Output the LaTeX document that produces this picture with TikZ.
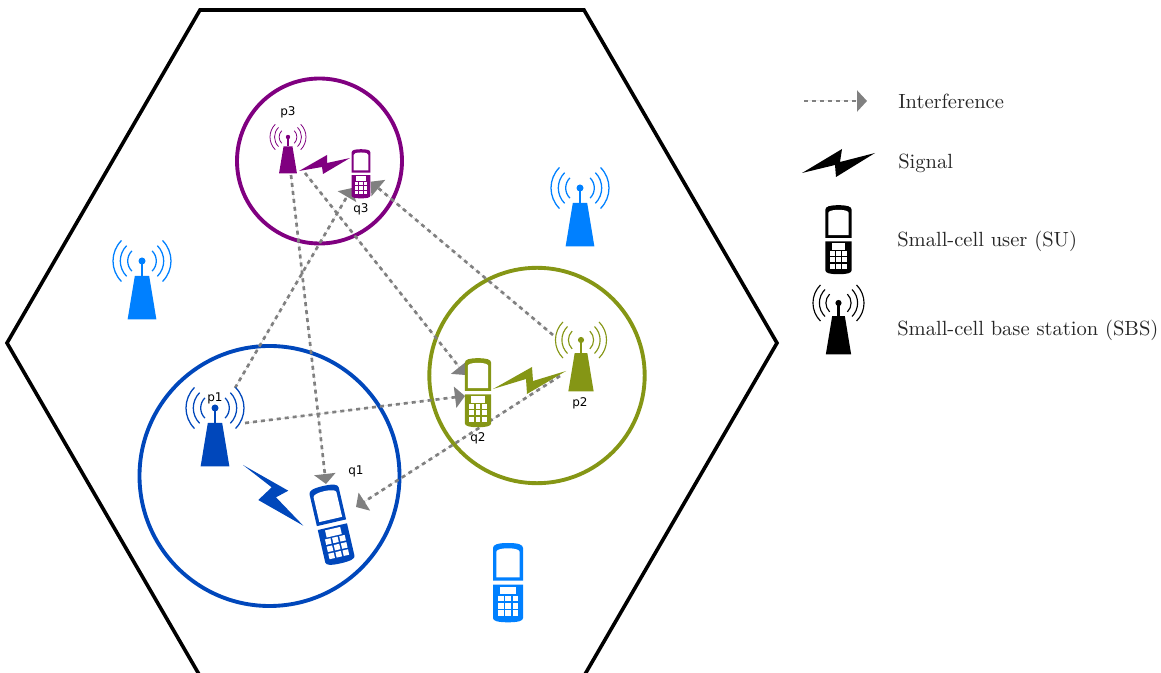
\documentclass[tikz,border=0pt]{standalone}
\usepackage{fontspec}
\usepackage{graphicx}
\usetikzlibrary{arrows.meta}
\newfontfamily\lblfont{DejaVu Sans}
\newcommand{\legscale}[1]{\scalebox{1.54}{\fontsize{10}{12}\selectfont #1}}
\definecolor{cpurple}{HTML}{800080}
\definecolor{colive}{HTML}{859615}
\definecolor{cblue}{HTML}{0047BB}
\definecolor{clight}{HTML}{0080FF}
\definecolor{cgray}{HTML}{808080}
\colorlet{iconcol}{black}
\tikzset{
  iconc/.code={\colorlet{iconcol}{#1}},
  cellring/.style={line width=2.9pt,fill=none},
  hexa/.style={draw=black,line width=2.7pt,line join=miter},
  intf/.style={draw=cgray,fill=cgray,line width=2pt,dash pattern=on 3pt off 3pt,
    -{Triangle[length=7.5pt,width=15.75pt,fill=cgray,sep=0pt]}},
  lbl/.style={font=\lblfont\fontsize{9}{10}\selectfont,text=black,inner sep=0pt},
  legtxt/.style={anchor=west,inner sep=0pt,text=black!85},
  phone/.pic={
    \fill[iconcol] (-15,2.3) -- (-15,35) .. controls (-15,38.5) and (-10,40) .. (0,40)
      .. controls (10,40) and (15,38.5) .. (15,35) -- (15,2.3) -- cycle;
    \fill[white] (-11.7,5.7) -- (-11.7,31) .. controls (-11.7,33) and (-8,34.7) .. (0,34.7)
      .. controls (8,34.7) and (11.7,33) .. (11.7,31) -- (11.7,5.7) -- cycle;
    \fill[iconcol] (-15,-1.7) -- (-15,-35) .. controls (-15,-38) and (-10,-39.3) .. (0,-39.3)
      .. controls (10,-39.3) and (15,-38) .. (15,-35) -- (15,-1.7) -- cycle;
    \fill[white] (-8,-3.7) rectangle (7.5,-11);
    \foreach \kx in {-7.3,0,7.3}
      \foreach \ky in {-15.3,-22.7,-30}
        \fill[white] (\kx-2.8,\ky-2.8) rectangle (\kx+2.8,\ky+2.8);
  },
  tower/.pic={
    \fill[iconcol] (0,0) circle (3.5);
    \fill[iconcol] (-1.2,0) rectangle (1.2,-15);
    \fill[iconcol] (-7.2,-15) -- (7.2,-15) -- (14.4,-58.5) -- (-14.4,-58.5) -- cycle;
    \foreach \rr in {14.3,21.7,29}{
      \draw[iconcol] (45:\rr) arc (45:-45:\rr);
      \draw[iconcol] (135:\rr) arc (135:225:\rr);
    }
  },
}
\begin{document}
\begin{tikzpicture}[x=0.75pt,y=0.75pt]
\useasboundingbox (0,0) rectangle (1161,-673);
\clip (0,0) rectangle (1161,-673);
% anchors
\coordinate (p1) at (215,-408);
\coordinate (p2) at (581,-340);
\coordinate (p3) at (288,-137);
\coordinate (q1) at (332,-525);
\coordinate (q2) at (478,-393);
\coordinate (q3) at (361,-174);
\coordinate (sa) at (580,-188);
\coordinate (sb) at (142,-261);
\coordinate (ua) at (508,-583);
\coordinate (legsu) at (838.5,-240);
\coordinate (legsbs) at (838.5,-303);
% ends of the interference links
\coordinate (p3a) at (291,-175);
\coordinate (q1a) at (326,-484);
\coordinate (p3b) at (305,-173);
\coordinate (q2b) at (465.5,-375);
\coordinate (p1c) at (245,-423);
\coordinate (q2c) at (465,-396);
\coordinate (p2d) at (560,-376);
\coordinate (q1d) at (356,-507);
\coordinate (p1e) at (235,-388);
\coordinate (q3e) at (352,-188);
\coordinate (p2f) at (553,-335);
\coordinate (q3f) at (370.7,-181.7);
\coordinate (lega) at (804,-101);
\coordinate (legb) at (867,-101);
% hexagon and cells
\draw[hexa] (7,-343) -- (200,-10) -- (584,-10) -- (777,-343) -- (584,-676) -- (200,-676) -- cycle;
\draw[cellring,draw=cpurple] (319.5,-161) circle (82.5);
\draw[cellring,draw=colive] (537,-375.5) circle (107.7);
\draw[cellring,draw=cblue] (269.5,-476) circle (130);
% interference
\draw[intf] (p3a) -- (q1a);
\draw[intf] (p3b) -- (q2b);
\draw[intf] (p1c) -- (q2c);
\draw[intf] (p2d) -- (q1d);
\draw[intf] (p1e) -- (q3e);
\draw[intf] (p2f) -- (q3f);
\draw[intf] (lega) -- (legb);
% signals
\fill[cpurple] (299,-171) -- (327,-155) -- (327,-163) -- (350,-158) -- (323,-174) -- (322,-167) -- cycle;
\fill[colive] (493,-389) -- (532,-367) -- (533,-381) -- (566,-371) -- (527,-394) -- (526,-379) -- cycle;
\fill[cblue] (243,-465) -- (288.3,-490.7) -- (276,-497.3) -- (303.3,-525.7) -- (258.3,-500) -- (271.7,-487.3) -- cycle;
\fill[black] (802,-173) -- (842,-149) -- (840,-162) -- (875,-153) -- (836,-177) -- (835,-165) -- cycle;
% towers
\pic[iconc=clight,line width=.95pt] at (sa) {tower};
\pic[iconc=clight,line width=.95pt] at (sb) {tower};
\pic[iconc=cblue,line width=.95pt] at (p1) {tower};
\pic[iconc=colive,scale=.88,line width=.85pt] at (p2) {tower};
\pic[iconc=cpurple,scale=.62,line width=.6pt] at (p3) {tower};
\pic[iconc=black,scale=.88,line width=.85pt] at (legsbs) {tower};
% phones
\pic[iconc=clight] at (ua) {phone};
\pic[iconc=cblue,rotate=13] at (q1) {phone};
\pic[iconc=colive,scale=.87] at (q2) {phone};
\pic[iconc=cpurple,scale=.62] at (q3) {phone};
\pic[iconc=black,scale=.87] at (legsu) {phone};
% labels
\node[lbl] (lp1) at (215,-398) {p1};
\node[lbl] (lq1) at (356,-471) {q1};
\node[lbl] (lp2) at (580,-403) {p2};
\node[lbl] (lq2) at (478,-438) {q2};
\node[lbl] (lp3) at (288,-112) {p3};
\node[lbl] (lq3) at (361,-209) {q3};
% legend
\node[legtxt] (t1) at (898,-101) {\legscale{Interference}};
\node[legtxt] (t2) at (898,-163) {\legscale{Signal}};
\node[legtxt] (t3) at (897,-241) {\legscale{Small-cell user (SU)}};
\node[legtxt] (t4) at (897,-330) {\legscale{Small-cell base station (SBS)}};
\end{tikzpicture}
\end{document}
